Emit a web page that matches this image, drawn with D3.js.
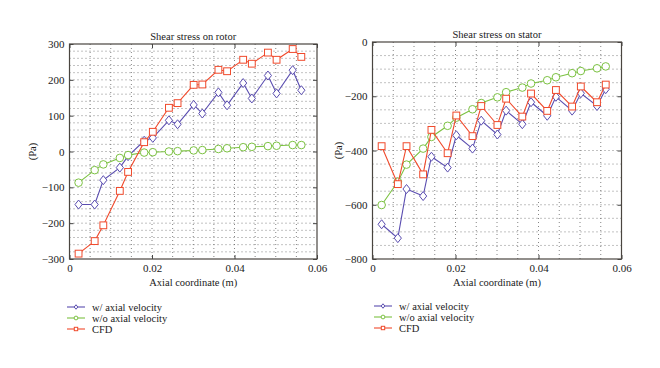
<!DOCTYPE html>
<html><head><meta charset="utf-8">
<script src="https://cdn.jsdelivr.net/npm/d3@7"></script>
<style>body{margin:0;background:#fff}svg{display:block}svg text{font-family:"Liberation Serif","Times New Roman","DejaVu Serif",serif}</style>
</head><body>
<svg id="c" width="660" height="368"></svg>
<script>
const xs = [0.0022,0.0061,0.0082,0.0122,0.0142,0.0181,0.0202,0.0241,0.0262,0.0301,0.0322,0.0361,0.0382,0.0421,0.0442,0.0481,0.0502,0.0541,0.0562];
const rotorWith = [-148,-148,-80,-45,-13,30,38,87,76,130,106,165,129,191,148,212,162,227,171];
const rotorWithout = [-87,-52,-36,-18,-10,-3,-2,0,1,3,4,7,9,12,13,15,16,18,18];
const rotorCFD = [-285,-250,-206,-110,-57,26,55,122,135,186,187,228,224,256,245,276,256,286,264];
const statorWith = [-672,-723,-542,-568,-423,-463,-344,-393,-290,-341,-253,-303,-222,-272,-202,-253,-189,-236,-174];
const statorWithout = [-601,-515,-452,-393,-350,-309,-279,-248,-225,-204,-185,-168,-153,-141,-130,-115,-107,-97,-90];
const statorCFD = [-384,-524,-384,-488,-324,-410,-271,-347,-236,-306,-209,-275,-190,-254,-177,-238,-164,-222,-157];
const xTicks = [0,0.02,0.04,0.06];
const rotorYTicks = [-300,-200,-100,0,100,200,300];
const statorYTicks = [-800,-600,-400,-200,0];
const seriesNames = ["w/ axial velocity","w/o axial velocity","CFD"];
const colors = ["#5a4db0","#7cc242","#f04a2c"];
const markers = ["diamond","circle","square"];

const svg = d3.select("#c");
const FS = 10.5;

function panel(cfg){
  const x = d3.scaleLinear().domain([0,0.06]).range([cfg.l,cfg.r]);
  const y = d3.scaleLinear().domain(cfg.yd).range([cfg.b,cfg.t]);
  const g = svg.append("g");
  const gx = d3.range(0.005,0.06,0.005);
  const gy = d3.range(cfg.yd[0]+cfg.ystep, cfg.yd[1]-cfg.ystep/2, cfg.ystep);
  g.selectAll(".gx").data(gx).join("line")
    .attr("x1",d=>x(d)).attr("x2",d=>x(d)).attr("y1",cfg.t).attr("y2",cfg.b)
    .attr("stroke","#666").attr("stroke-width",0.8).attr("stroke-dasharray","1,3");
  g.selectAll(".gy").data(gy).join("line")
    .attr("y1",d=>y(d)).attr("y2",d=>y(d)).attr("x1",cfg.l).attr("x2",cfg.r)
    .attr("stroke","#666").attr("stroke-width",0.8).attr("stroke-dasharray","1,3");
  const ax = g.append("g").attr("transform",`translate(0,${cfg.b})`)
    .call(d3.axisBottom(x).tickValues(xTicks).tickSize(-4).tickPadding(5).tickFormat(d3.format("")));
  const ay = g.append("g").attr("transform",`translate(${cfg.l},0)`)
    .call(d3.axisLeft(y).tickValues(cfg.yticks).tickSize(-4).tickPadding(5).tickFormat(d3.format("")));
  const axT = g.append("g").attr("transform",`translate(0,${cfg.t})`)
    .call(d3.axisTop(x).tickValues(xTicks).tickSize(-4).tickFormat(""));
  const ayR = g.append("g").attr("transform",`translate(${cfg.r},0)`)
    .call(d3.axisRight(y).tickValues(cfg.yticks).tickSize(-4).tickFormat(""));
  [ax,ay,axT,ayR].forEach(a=>{
    a.attr("font-family",null);
    a.select(".domain").remove();
    a.selectAll("line").attr("stroke","#444");
    a.selectAll("text").attr("font-size",FS+0.5).attr("fill","#1a1a1a");
  });
  g.append("rect").attr("x",cfg.l).attr("y",cfg.t).attr("width",cfg.r-cfg.l).attr("height",cfg.b-cfg.t)
    .attr("fill","none").attr("stroke","#4a4540").attr("stroke-width",1.2);
  g.append("text").attr("x",(cfg.l+cfg.r)/2).attr("y",cfg.t-4).attr("text-anchor","middle")
    .attr("font-size",FS).attr("fill","#1a1a1a").text(cfg.title);
  g.append("text").attr("x",(cfg.l+cfg.r)/2).attr("y",cfg.b+27).attr("text-anchor","middle")
    .attr("font-size",FS).attr("fill","#1a1a1a").text("Axial coordinate (m)");
  g.append("text").attr("transform",`translate(${cfg.ylx},${(cfg.t+cfg.b)/2}) rotate(-90)`).attr("text-anchor","middle")
    .attr("font-size",FS).attr("fill","#1a1a1a").text("(Pa)");
  const line = d3.line().x(d=>x(d[0])).y(d=>y(d[1]));
  cfg.series.forEach((vals,i)=>{
    const pts = xs.map((xv,j)=>[xv,vals[j]]);
    g.append("path").attr("d",line(pts)).attr("fill","none").attr("stroke",colors[i]).attr("stroke-width",1.1);
    drawMarkers(g, pts.map(p=>[x(p[0]),y(p[1])]), i, 1);
  });
  seriesNames.forEach((n,i)=>{
    const ly = cfg.legY + i*11;
    g.append("line").attr("x1",cfg.legX).attr("x2",cfg.legX+18).attr("y1",ly).attr("y2",ly)
      .attr("stroke",colors[i]).attr("stroke-width",1.1);
    drawMarkers(g, [[cfg.legX+9,ly]], i, 0.5);
    g.append("text").attr("x",cfg.legX+25).attr("y",ly+3.5).attr("font-size",FS)
      .attr("fill","#1a1a1a").text(n);
  });
}

function drawMarkers(g, pts, i, s){
  const c = colors[i];
  if(markers[i]==="diamond"){
    const r = 4.5*s;
    g.selectAll(null).data(pts).join("path")
      .attr("d",d=>`M${d[0]},${d[1]-r}L${d[0]+r*0.8},${d[1]}L${d[0]},${d[1]+r}L${d[0]-r*0.8},${d[1]}Z`)
      .attr("fill","#fff").attr("stroke",c).attr("stroke-width",1);
  } else if(markers[i]==="circle"){
    g.selectAll(null).data(pts).join("circle").attr("cx",d=>d[0]).attr("cy",d=>d[1]).attr("r",3.8*s)
      .attr("fill","#fff").attr("stroke",c).attr("stroke-width",1);
  } else {
    const h = 3.4*s;
    g.selectAll(null).data(pts).join("rect").attr("x",d=>d[0]-h).attr("y",d=>d[1]-h).attr("width",2*h).attr("height",2*h)
      .attr("fill","#fff").attr("stroke",c).attr("stroke-width",1);
  }
}

panel({l:69.5,r:317,t:44,b:259,yd:[-300,300],ystep:20,yticks:rotorYTicks,title:"Shear stress on rotor",ylx:36,
  series:[rotorWith,rotorWithout,rotorCFD],legX:67,legY:307});
panel({l:372.5,r:621.5,t:42,b:259,yd:[-800,0],ystep:50,yticks:statorYTicks,title:"Shear stress on stator",ylx:342,
  series:[statorWith,statorWithout,statorCFD],legX:374,legY:306});
</script>
</body></html>
